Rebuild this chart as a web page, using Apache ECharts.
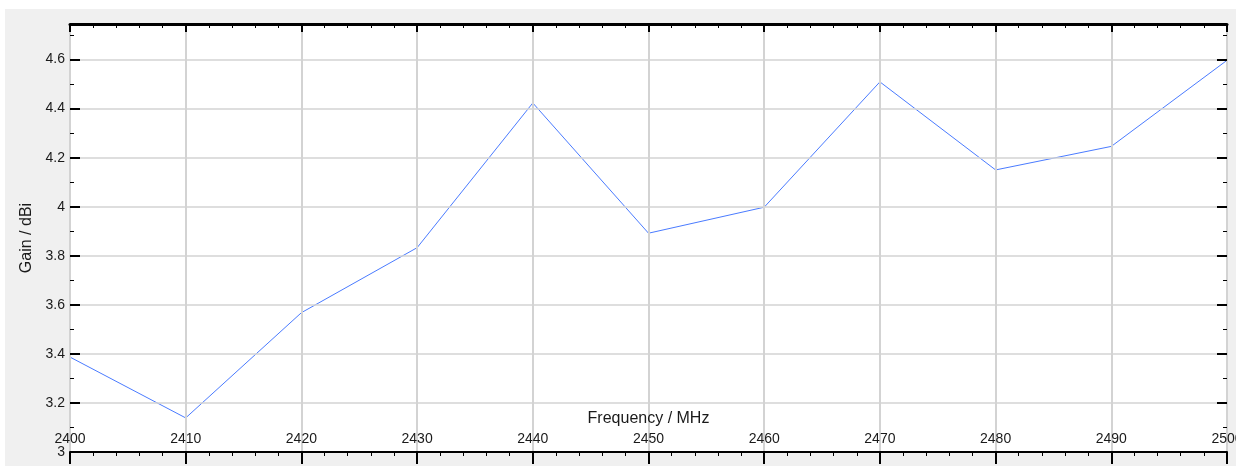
<!DOCTYPE html>
<html>
<head>
<meta charset="utf-8">
<script src="https://cdn.jsdelivr.net/npm/echarts@6/dist/echarts.min.js"></script>
<style>
html,body{margin:0;padding:0;background:#ffffff;width:1236px;height:466px;overflow:hidden;}
#c{position:absolute;left:5px;top:9px;width:1231px;height:457px;background:#f0f0f0;}
</style>
</head>
<body>
<div id="c"></div>
<script>
const freqMHz = [2400, 2410, 2420, 2430, 2440, 2450, 2460, 2470, 2480, 2490, 2500];
const gainDBi = [3.387, 3.139, 3.568, 3.833, 4.423, 3.892, 3.998, 4.509, 4.150, 4.246, 4.597];
const xTitle = 'Frequency / MHz';
const yTitle = 'Gain / dBi';
const xMin = 2400, xMax = 2500, xStep = 10;
const yMin = 3, yMax = 4.745, yStep = 0.2, yMinorStep = 0.1;

const font = 'Liberation Sans, Arial, sans-serif';
const textColor = '#1a1a1a';
const gridColor = '#d3d3d3';

const chart = echarts.init(document.getElementById('c'), null, {renderer: 'canvas'});

function yFmt(v) {
  const k = Math.round((v - yMin) / yStep);
  if (Math.abs(yMin + k * yStep - v) > 1e-6) return '';
  return String(Math.round(v * 10) / 10);
}
function xFmt(v) { return String(Math.round(v)); }

const option = {
  animation: false,
  backgroundColor: 'transparent',
  grid: {left: 65, top: 15, right: 9, bottom: 14, show: true, backgroundColor: '#ffffff', borderWidth: 0, containLabel: false, outerBoundsMode: 'none'},
  xAxis: [
    {
      type: 'value', position: 'bottom', min: xMin, max: xMax, interval: xStep,
      name: xTitle, nameLocation: 'middle', nameGap: -41,
      nameTextStyle: {fontFamily: font, fontSize: 16, color: textColor},
      axisLine: {show: true, onZero: false, lineStyle: {color: '#000', width: 2}},
      axisTick: {show: true, inside: false, length: 12, lineStyle: {color: '#000', width: 2}},
      minorTick: {show: true, splitNumber: 5, length: 4, lineStyle: {color: '#000', width: 1}},
      axisLabel: {show: true, inside: true, margin: 6, fontFamily: font, fontSize: 14, color: textColor, formatter: xFmt},
      splitLine: {show: true, lineStyle: {color: gridColor, width: 2}},
      z: 5
    },
    {
      type: 'value', position: 'top', min: xMin, max: xMax, interval: xStep,
      axisLine: {show: true, onZero: false, lineStyle: {color: '#000', width: 3}},
      axisTick: {show: true, inside: true, length: 8, lineStyle: {color: '#000', width: 2}},
      minorTick: {show: true, splitNumber: 5, length: 4, lineStyle: {color: '#000', width: 1}},
      axisLabel: {show: false},
      splitLine: {show: false},
      z: 5
    }
  ],
  yAxis: [
    {
      type: 'value', position: 'left', min: yMin, max: yMax, interval: yStep,
      name: yTitle, nameLocation: 'middle', nameGap: 33, nameRotate: 90,
      nameTextStyle: {fontFamily: font, fontSize: 16, color: textColor},
      axisLine: {show: false},
      axisTick: {show: true, inside: true, length: 10, lineStyle: {color: '#000', width: 2}},
      axisLabel: {show: true, margin: 5, fontFamily: font, fontSize: 14, color: textColor, formatter: yFmt, showMaxLabel: false},
      splitLine: {show: true, lineStyle: {color: gridColor, width: 1.5}},
      z: 5
    },
    {
      type: 'value', position: 'left', min: yMin, max: yMax, interval: yMinorStep,
      axisLine: {show: false},
      axisTick: {show: true, inside: true, length: 4, lineStyle: {color: '#000', width: 1}},
      axisLabel: {show: false},
      splitLine: {show: false},
      z: 5
    },
    {
      type: 'value', position: 'right', min: yMin, max: yMax, interval: yStep,
      axisLine: {show: false},
      axisTick: {show: true, inside: true, length: 10, lineStyle: {color: '#000', width: 2}},
      axisLabel: {show: false},
      splitLine: {show: false},
      z: 5
    },
    {
      type: 'value', position: 'right', min: yMin, max: yMax, interval: yMinorStep,
      axisLine: {show: false},
      axisTick: {show: true, inside: true, length: 4, lineStyle: {color: '#000', width: 1}},
      axisLabel: {show: false},
      splitLine: {show: false},
      z: 5
    }
  ],
  series: [
    {
      type: 'line',
      xAxisIndex: 0, yAxisIndex: 0,
      data: freqMHz.map((f, i) => [f, gainDBi[i]]),
      showSymbol: false,
      symbol: 'none',
      lineStyle: {color: '#4a7bff', width: 1},
      clip: true,
      z: 3
    }
  ]
};
chart.setOption(option);
</script>
</body>
</html>
